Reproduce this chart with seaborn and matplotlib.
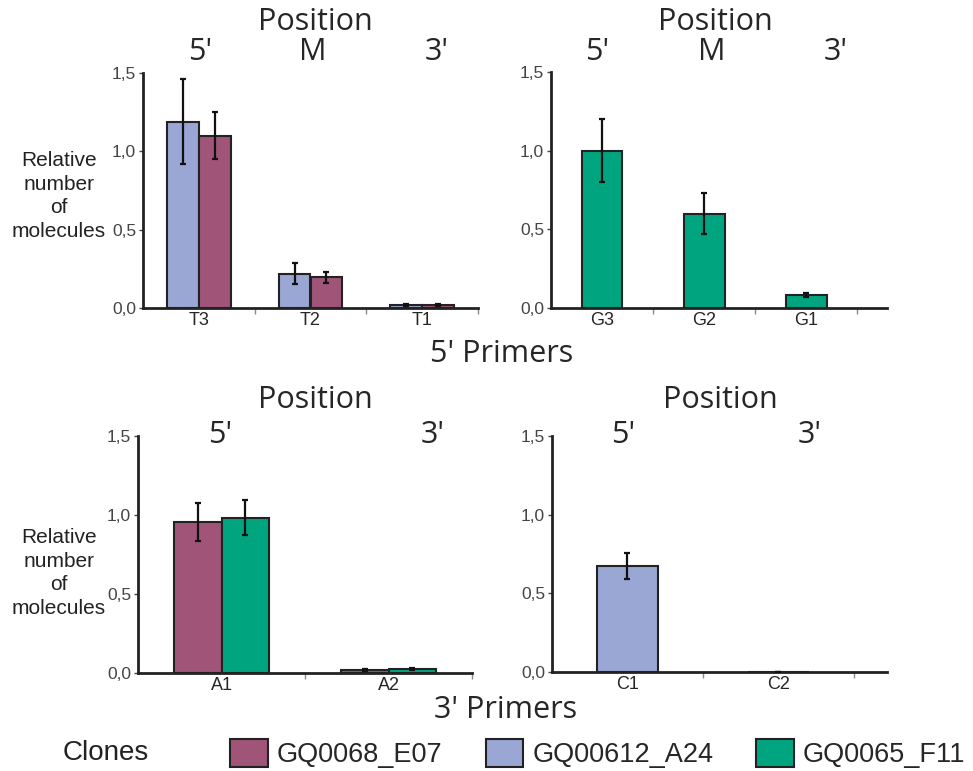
import seaborn as sns
import numpy as np
import pandas as pd
import matplotlib.pyplot as plt
from matplotlib.patches import Patch
from matplotlib.ticker import FixedLocator

sns.set_style("ticks")
plt.rcParams['font.family'] = ['Liberation Sans', 'DejaVu Sans']

# clones and colours
clones = ["GQ0068_E07", "GQ00612_A24", "GQ0065_F11"]
pal = {"GQ0068_E07": "#A05578", "GQ00612_A24": "#9AA6D4", "GQ0065_F11": "#00A580"}

# 5' primers, T series
t_primers = ["T3", "T2", "T1"]
t_a24 = [1.19, 0.22, 0.02]
t_a24_err = [0.27, 0.065, 0.006]
t_e07 = [1.10, 0.195, 0.02]
t_e07_err = [0.15, 0.035, 0.006]

# 5' primers, G series
g_primers = ["G3", "G2", "G1"]
g_f11 = [1.00, 0.60, 0.083]
g_f11_err = [0.20, 0.13, 0.015]

# 3' primers, A series
a_primers = ["A1", "A2"]
a_e07 = [0.957, 0.02]
a_e07_err = [0.12, 0.005]
a_f11 = [0.982, 0.025]
a_f11_err = [0.11, 0.005]

# 3' primers, C series
c_primers = ["C1", "C2"]
c_a24 = [0.674, 0.003]
c_a24_err = [0.085, 0.0]

W, H = 973, 771
fig = plt.figure(figsize=(W / 100, H / 100), dpi=100)


def rect(l, r, top, bottom):
    return [l / W, 1 - bottom / H, (r - l) / W, (bottom - top) / H]


def panel(box, primers, series, width, xmax):
    ax = fig.add_axes(box)
    rows = []
    for name, vals, errs in series:
        for p, v, e in zip(primers, vals, errs):
            rows.append({"primer": p, "clone": name, "value": v, "err": e})
    df = pd.DataFrame(rows)
    order = [s[0] for s in series]
    sns.barplot(data=df, x="primer", y="value", hue="clone", hue_order=order,
                palette=pal, order=primers, width=width, errorbar=None,
                saturation=1, edgecolor="#222222", linewidth=1.5, legend=False, ax=ax)
    for cont, (name, vals, errs) in zip(ax.containers, series):
        xs = [b.get_x() + b.get_width() / 2 for b in cont]
        ax.errorbar(xs, vals, yerr=errs, fmt="none", ecolor="#111111",
                    elinewidth=1.6, capsize=2, capthick=1.6, zorder=5)
    ax.set_xlim(-0.5, xmax)
    ax.set_ylim(0, 1.5)
    ax.set_yticks([0, 0.5, 1.0, 1.5])
    ax.set_yticklabels(["0,0", "0,5", "1,0", "1,5"], color="#444444", fontsize=12.5)
    ax.tick_params(axis="y", length=3, width=1, color="#444444", pad=2)
    ax.tick_params(axis="x", which="major", length=0, labelsize=13, pad=3)
    ax.xaxis.set_minor_locator(FixedLocator(np.arange(0.5, len(primers), 1.0)))
    ax.tick_params(axis="x", which="minor", length=4, width=1, color="#888888")
    ax.set_xlabel("")
    ax.set_ylabel("")
    for s in ["top", "right"]:
        ax.spines[s].set_visible(False)
    for s in ["left", "bottom"]:
        ax.spines[s].set_linewidth(2)
        ax.spines[s].set_color("#222222")
    return ax


panel(rect(143, 478, 73, 308), t_primers,
      [("GQ00612_A24", t_a24, t_a24_err), ("GQ0068_E07", t_e07, t_e07_err)], 0.57, 2.5)
panel(rect(551, 887, 72, 308), g_primers,
      [("GQ0065_F11", g_f11, g_f11_err)], 0.4, 2.79)
panel(rect(138, 472, 436, 673), a_primers,
      [("GQ0068_E07", a_e07, a_e07_err), ("GQ0065_F11", a_f11, a_f11_err)], 0.57, 1.5)
panel(rect(552, 887, 436, 672), c_primers,
      [("GQ00612_A24", c_a24, c_a24_err)], 0.4, 1.72)


def ftext(x, y, s, size=22, **kw):
    fig.text(x / W, 1 - y / H, s, fontsize=size, ha="center", va="center",
             family=["Open Sans", "DejaVu Sans"], **kw)


# headings
for x, y in [(315, 22), (715, 22), (315, 400), (720, 400)]:
    ftext(x, y, "Position")
for x, s in [(200, "5'"), (313, "M"), (437, "3'"), (597, "5'"), (712, "M"), (836, "3'")]:
    ftext(x, 52, s)
for x, s in [(220, "5'"), (433, "3'"), (623, "5'"), (810, "3'")]:
    ftext(x, 435, s)
ftext(502, 354, "5' Primers")
ftext(506, 710, "3' Primers")

for y in [196, 573]:
    fig.text(59 / W, 1 - y / H, "Relative\nnumber\nof\nmolecules", fontsize=15,
             ha="center", va="center", linespacing=1.33, color="#222222")

# legend
fig.text(106 / W, 1 - 753 / H, "Clones", fontsize=20, ha="center", va="center",
         color="#222222")
handles = [Patch(facecolor=pal[c], edgecolor="#222222", linewidth=1.5) for c in clones]
fig.legend(handles, clones, ncol=3, loc="center left",
           bbox_to_anchor=(230 / W, 1 - 753.5 / H), frameon=False, fontsize=19.5,
           handlelength=1.4, handleheight=1.2, handletextpad=0.32,
           columnspacing=1.6, borderpad=0, borderaxespad=0)

fig.savefig("out.png", dpi=100)
